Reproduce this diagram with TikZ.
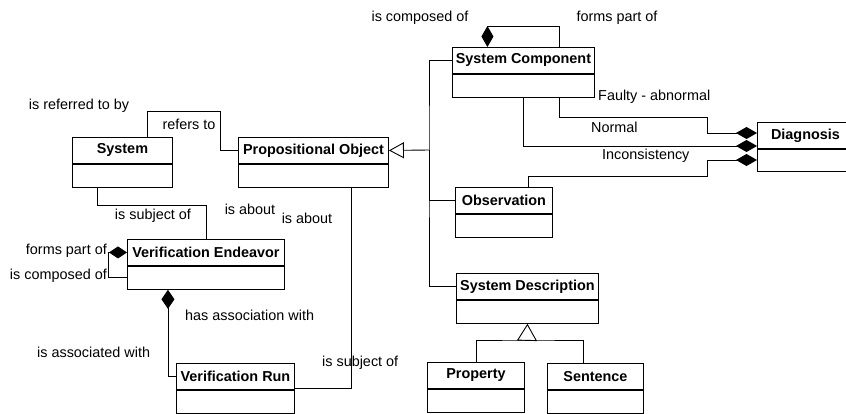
\documentclass[tikz,border=0pt]{standalone}
\usepackage{fontspec}
\setmainfont{Liberation Sans}
\usetikzlibrary{arrows.meta,positioning}

\tikzset{
	cls/.style={draw, line width=.9pt, fill=white, inner sep=0pt, minimum height=26pt,
		anchor=north west, font=\bfseries\fontsize{14.4}{17}\selectfont},
	clsbody/.style={draw, line width=.9pt, fill=white, inner sep=0pt, minimum height=23pt},
	lbl/.style={inner sep=0pt, font=\fontsize{14.4}{17}\selectfont},
	assoc/.style={line width=.9pt},
	comp/.style={assoc, -{Diamond[length=21pt,width=12pt]}},
	gen/.style={assoc, {Triangle[open,length=15pt,width=16pt]}-},
}

\begin{document}
\begin{tikzpicture}[x=1pt,y=-1pt]
	\path[use as bounding box,clip] (0,0) rectangle (846,413);
	% Classes
	\node[cls, minimum width=100pt] (sys) at (72,137) {System};
	\node[clsbody, minimum width=100pt, below=0pt of sys] (sysb) {};
	\node[cls, minimum width=150pt] (po) at (238,137) {Propositional Object};
	\node[clsbody, minimum width=150pt, below=0pt of po] (pob) {};
	\node[cls, minimum width=142pt] (sc) at (452,47) {System Component};
	\node[clsbody, minimum width=142pt, below=0pt of sc] (scb) {};
	\node[cls, minimum width=97pt] (obs) at (455,187) {Observation};
	\node[clsbody, minimum width=97pt, below=0pt of obs] (obsb) {};
	\node[cls, minimum width=142pt] (sd) at (456,273) {System Description};
	\node[clsbody, minimum width=142pt, below=0pt of sd] (sdb) {};
	\node[cls, minimum width=97pt] (prop) at (427,362) {Property};
	\node[clsbody, minimum width=97pt, below=0pt of prop] (propb) {};
	\node[cls, minimum width=96pt] (sen) at (547,363) {Sentence};
	\node[clsbody, minimum width=96pt, below=0pt of sen] (senb) {};
	\node[cls, minimum width=96pt] (diag) at (757,122) {Diagnosis};
	\node[clsbody, minimum width=96pt, minimum height=22pt, below=0pt of diag] (diagb) {};
	\node[cls, minimum width=157pt] (ve) at (127,239) {Verification Endeavor};
	\node[clsbody, minimum width=157pt, below=0pt of ve] (veb) {};
	\node[cls, minimum width=118pt] (vr) at (176,363) {Verification Run};
	\node[clsbody, minimum width=118pt, below=0pt of vr] (vrb) {};
	% Generalisations
	\coordinate (g1) at (429,150);
	\draw[gen] (po.east) -- (g1);
	\draw[assoc] (sc.west) -| (g1) |- (sd.west);
	\draw[assoc] (g1) |- (obs.west);
	\coordinate (g2) at (527,340);
	\draw[assoc,{Triangle[open,length=17pt,width=20pt]}-] (sdb.south) -- (g2);
	\draw[assoc] (prop.north) |- (g2) -| ([xshift=-12pt]sen.north);
	% Associations
	\draw[assoc] ([xshift=25pt]sys.north) |- (220,111) |- (po.west);
	\draw[assoc] ([xshift=-25pt]sysb.south) |- (ve.north |- 0,205) -- (ve.north);
	\draw[assoc] (vr.east |- 0,388) -| ([xshift=38pt]pob.south);
	% Compositions
	\draw[comp] ([xshift=36pt]sc.north) -- ++(0,-21) -| ([xshift=-36pt]sc.north);
	\draw[comp] ([xshift=36pt]scb.south) |- (707,117) |- (diag.west |- 0,133);
	\draw[comp] (scb.south) |- (diag.west |- 0,146);
	\draw[comp] ([xshift=24pt]obs.north) |- (707,176) |- (diag.west |- 0,160);
	\draw[assoc,-{Diamond[length=18pt,width=12pt]}] (veb.west) -| (ve.west -| 108,0) -- (ve.west);
	\draw[assoc,{Diamond[length=19pt,width=13pt]}-] ([xshift=-38pt]veb.south) |- (vr.west);
	% Role names
	\node[lbl] (lcomp) at (420,18) {is composed of};
	\node[lbl] (lpart) at (617,18) {forms part of};
	\node[lbl] (lrefby) at (79,106) {is referred to by};
	\node[lbl] (lrefs) at (189,124) {refers to};
	\node[lbl, anchor=west] (lfaulty) at (598,97) {Faulty - abnormal};
	\node[lbl, anchor=west] (lnormal) at (591,127) {Normal};
	\node[lbl, anchor=west] (lincons) at (602,156) {Inconsistency};
	\node[lbl] (lsubj) at (153,216) {is subject of};
	\node[lbl] (labouta) at (250,209) {is about};
	\node[lbl] (laboutb) at (307,218) {is about};
	\node[lbl, anchor=east] (lvepart) at (107,251) {forms part of};
	\node[lbl, anchor=east] (lvecomp) at (107,276) {is composed of};
	\node[lbl, anchor=west] (lhas) at (185,315) {has association with};
	\node[lbl, anchor=west] (lassoc) at (37,352) {is associated with};
	\node[lbl, anchor=west] (lsubjb) at (322,363) {is subject of};
\end{tikzpicture}
\end{document}
